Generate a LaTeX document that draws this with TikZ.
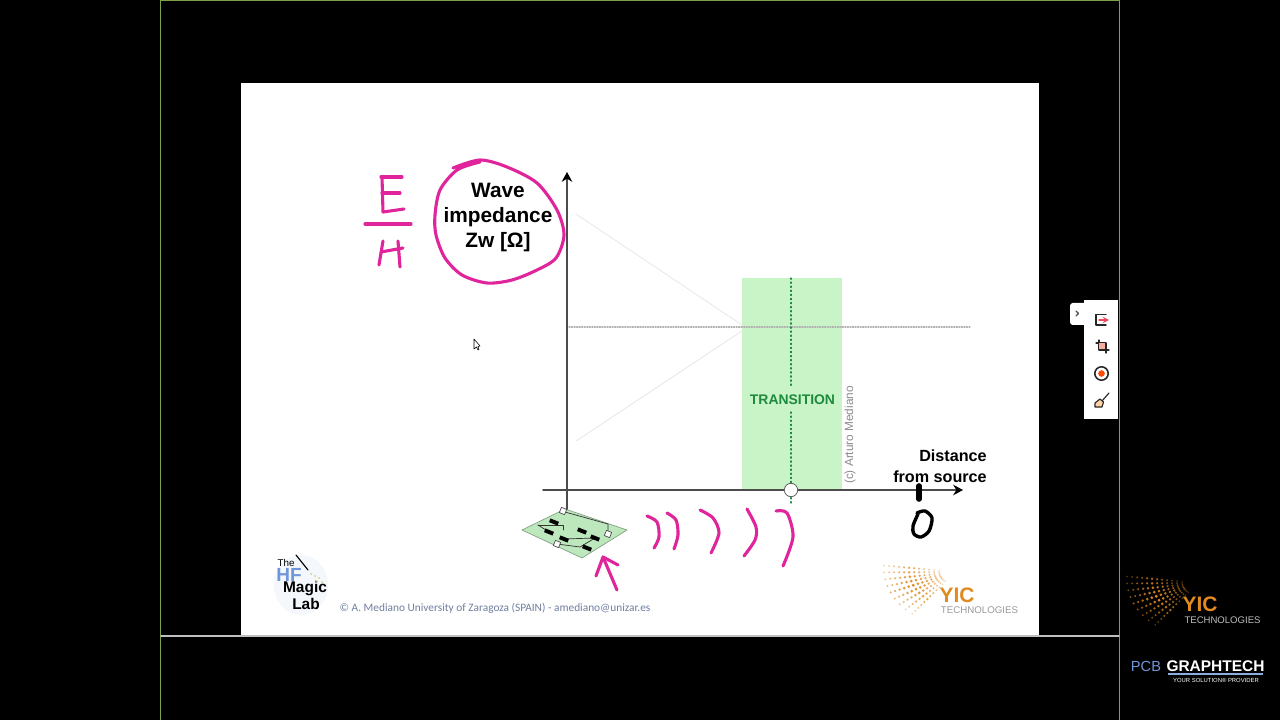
\documentclass[tikz,border=0pt]{standalone}
\usepackage{fontspec}
\usetikzlibrary{arrows.meta}
\setmainfont{Liberation Sans}
\newfontfamily\footfont{Carlito}
\definecolor{inkpink}{HTML}{E0249C}
\definecolor{bandgreen}{HTML}{C8F4C8}
\definecolor{textgreen}{HTML}{1E8A3C}
\definecolor{boardgreen}{HTML}{BDE8BD}
\definecolor{frameline}{HTML}{7FA04A}
\definecolor{yicorange}{HTML}{E08A20}
\definecolor{footblue}{HTML}{6F7F9F}
\definecolor{hfblue}{HTML}{6F96D8}
\tikzset{
  pinkink/.style={draw=inkpink,line width=2.2pt},
  blackink/.style={draw=black,line width=2.4pt},
  axisline/.style={draw=black!70,line width=1.3pt,-{Stealth[length=7pt,width=7.5pt,black]}},
  chip/.style={fill=black,inner sep=0pt,minimum width=6.5pt,minimum height=2.8pt,rotate=-22},
  jack/.style={draw=black!70,fill=white,line width=.5pt,inner sep=0pt,minimum size=4pt,rotate=-22},
  trace/.style={draw=black!80,line width=.5pt},
  toolicon/.style={draw=black!85,line width=1pt},
}
% fan of dots of the logo: x, y, colour of the background
\newcommand{\fandots}[3]{
  \foreach \r in {16,21,...,71}{
    \foreach \a in {-3,4,...,54}{
      \pgfmathsetmacro{\m}{max(22,100-abs(\r-46)*1.5-abs(\a-26)*0.9)}
      \pgfmathsetmacro{\dotr}{0.5+0.011*\m}
      \fill[yicorange!\m!#3] ({#1-\r*cos(\a)},{#2+\r*0.8*sin(\a)-(\r-40)*0.05}) circle ({\dotr});
    }
  }
}
\begin{document}
\begin{tikzpicture}[>=stealth,x=0.025cm,y=-0.025cm,line join=round,line cap=round]
  \def\xl{241} \def\xr{1039} \def\yt{83} \def\yb{636} % slide
  \def\xa{567} \def\ya{490} \def\xm{791} \def\ym{327} % axes
  \useasboundingbox (0,0) rectangle (1280,720);
  \fill[black] (0,0) rectangle (1280,720);
  \draw[frameline,line width=.8pt] (160.5,720) -- (160.5,.5) -- (1119.5,.5) -- (1119.5,720);
  \fill[white] (\xl,\yt) rectangle (\xr,\yb);
  \draw[black!25,line width=.8pt] (161,\yb) -- (1119,\yb);
  % band and faint lines
  \fill[bandgreen] (742,278) rectangle (842,\ya);
  \draw[black!10,line width=.5pt] (576,214) -- (742,325);
  \draw[black!10,line width=.5pt] (576,441) -- (742,331);
  \coordinate (ztl) at (569,\ym);
  \coordinate (ztr) at (970,\ym);
  \draw[black!30,densely dotted,line width=.8pt] (ztl) -- (ztr);
  \coordinate (trtop) at (\xm,278);
  \coordinate (trmid) at (\xm,388);
  \coordinate (trlow) at (\xm,412);
  \coordinate (trend) at (\xm,505);
  \draw[textgreen,dotted,line width=.9pt] (trtop) -- (trmid);
  \draw[textgreen,dotted,line width=.9pt] (trlow) -- (trend);
  \node[font=\fontsize{9.9}{12}\selectfont\bfseries,text=textgreen] (transition) at (792.5,400) {TRANSITION};
  \node[rotate=90,text=black!45,font=\fontsize{8.4}{10}\selectfont] (credit) at (850,435) {(c) Arturo Mediano};
  % axes
  \coordinate (ybot) at (\xa,512);
  \coordinate (ytop) at (\xa,172);
  \coordinate (xbot) at (543,\ya);
  \coordinate (xtop) at (963,\ya);
  \draw[axisline] (ybot) -- (ytop);
  \draw[axisline] (xbot) -- (xtop);
  \node[circle,draw=black!60,fill=white,line width=.6pt,minimum size=9.5pt,inner sep=0pt] (cross) at (\xm,\ya) {};
  \node[align=right,anchor=south east,inner sep=0pt,font=\fontsize{11.5}{15}\selectfont\bfseries] (dist) at (987,483) {Distance\\from source};
  \node[align=center,font=\fontsize{14.8}{17.8}\selectfont\bfseries] (wave) at (498,217.5) {Wave\\impedance\\Zw [Ω]};
  % handwriting
  \draw[pinkink,smooth] plot coordinates {(453,168) (480,160) (507,167) (537,183) (557,210) (564,235) (556,258) (537,270) (512,280) (487,283) (462,275) (445,258) (436,235) (435,215) (440,190) (457,170) (480,162)};
  \draw[pinkink] (381,177) -- (402,177);
  \draw[pinkink] (382,177) -- (383,212);
  \draw[pinkink] (382,193) -- (400,193);
  \draw[pinkink] (383,212) -- (404,209);
  \draw[pinkink] (365,224) -- (411,224);
  \draw[pinkink] (383,241) -- (379,265);
  \draw[pinkink] (398,241) -- (400,267);
  \draw[pinkink] (381,252) -- (403,248);
  \draw[pinkink,smooth] plot coordinates {(647,516) (657,522) (659,537) (654,548)};
  \draw[pinkink,smooth] plot coordinates {(667,513) (676,520) (678,535) (674,549)};
  \draw[pinkink,smooth] plot coordinates {(700,510) (713,518) (719,533) (711,553)};
  \draw[pinkink,smooth] plot coordinates {(747,509) (756,527) (755,540) (744,556)};
  \draw[pinkink,smooth] plot coordinates {(776,511) (787,513) (793,537) (783,566)};
  \draw[pinkink] (617,590) -- (603,557);
  \draw[pinkink] (596,576) -- (603,557) -- (618,565);
  \draw[blackink,line width=4pt] (919,486) -- (919,499);
  \draw[blackink,smooth] plot coordinates {(917,513) (925,511) (932,518) (929,531) (921,537) (914,534) (913,526) (918,514)};
  % board
  \draw[boardgreen!70!black,line width=.5pt,fill=boardgreen] (522,530) -- (565,509) -- (627,530) -- (582,558) -- cycle;
  \draw[trace] (565,512) -- (608,524) -- (608,534);
  \draw[trace] (538,525) -- (563,525) -- (563,530);
  \draw[trace] (538,525) -- (549,532);
  \draw[trace] (557,544) -- (580,547) -- (595,538) -- (564,539);
  \foreach \cx/\cy in {554/522,549/532,582/531,595/538,564/539,587/548}{
    \node[chip] at (\cx,\cy) {};
  }
  \foreach \cx/\cy in {563/511,608/534,557/544}{
    \node[jack] at (\cx,\cy) {};
  }
  % logos and footer
  \fill[hfblue!8] (301,585) ellipse (27 and 30);
  \draw[black,line width=.8pt] (296,555) -- (308,570);
  \node[inner sep=0pt,font=\fontsize{7}{8}\selectfont] (hfthe) at (286,563) {The};
  \node[inner sep=0pt,text=hfblue,font=\fontsize{13.5}{14}\selectfont\bfseries] (hfname) at (289,575) {HF};
  \node[inner sep=0pt,font=\fontsize{11}{12}\selectfont\bfseries] (hfmagic) at (305,589) {Magic};
  \node[inner sep=0pt,font=\fontsize{11}{12}\selectfont\bfseries] (hflab) at (306,604) {Lab};
  \foreach \sx/\sy in {311/574,315/576,319/578,322/582,316/581}{
    \fill[yellow!70!black!60] (\sx,\sy) circle (1);
  }
  \node[text=footblue,font=\fontsize{8.07}{9}\selectfont\footfont] (foot) at (495,608) {© A. Mediano University of Zaragoza (SPAIN) - amediano@unizar.es};
  \fandots{955}{570}{white}
  \node[inner sep=0pt,text=yicorange,font=\fontsize{14.9}{16}\selectfont\bfseries] (yica) at (957,595) {YIC};
  \node[inner sep=0pt,text=black!40,font=\fontsize{6.9}{8}\selectfont] (teca) at (979.5,610) {TECHNOLOGIES};
  \fandots{1198}{581}{black}
  \node[inner sep=0pt,text=yicorange,font=\fontsize{14.9}{16}\selectfont\bfseries] (yicb) at (1200,604) {YIC};
  \node[inner sep=0pt,text=black!25,font=\fontsize{6.8}{8}\selectfont] (tecb) at (1222.5,620) {TECHNOLOGIES};
  \node[inner sep=0pt,text=hfblue,font=\fontsize{10.4}{12}\selectfont] (pcb) at (1146,666) {PCB};
  \node[inner sep=0pt,text=white,font=\fontsize{11}{12}\selectfont\bfseries] (graph) at (1215.5,666) {GRAPHTECH};
  \fill[hfblue!80!white] (1168,672.5) rectangle (1263,674.5);
  \node[inner sep=0pt,text=white,font=\fontsize{4.2}{5}\selectfont] (solution) at (1216,680) {YOUR SOLUTION® PROVIDER};
  % toolbar
  \fill[white,rounded corners=2pt] (1070,303) rectangle (1090,325);
  \fill[white] (1084,300) rectangle (1118,419);
  \draw[black!70,line width=.8pt] (1076,311) -- (1078.5,313.5) -- (1076,316);
  \draw[toolicon] (1106,314.5) -- (1096,314.5) -- (1096,325) -- (1106,325);
  \draw[inkpink!60!orange,line width=1pt,->] (1099,320) -- (1109,320);
  \draw[toolicon,line width=.8pt] (1096,343) -- (1106,343) -- (1106,353);
  \draw[toolicon,line width=.8pt] (1099,340) -- (1099,350) -- (1109,350);
  \fill[inkpink!40!orange!50] (1099,343) rectangle (1105,349);
  \draw[toolicon,line width=1.1pt] (1101.5,373.5) circle (6.7);
  \fill[orange!60!red] (1101.5,373.5) circle (3.3);
  \draw[toolicon,line width=.8pt] (1109,393) -- (1102,401);
  \draw[toolicon,line width=.8pt,fill=orange!35] (1095,403) -- (1100,399) -- (1103.5,402) -- (1102,407) -- (1095,407) -- cycle;
  % pointer
  \draw[black,fill=white,line width=.4pt] (474,339) -- (474,349) -- (476.5,347) -- (478,350) -- (479,349.5) -- (478,346.5) -- (480,346) -- cycle;
\end{tikzpicture}
\end{document}
